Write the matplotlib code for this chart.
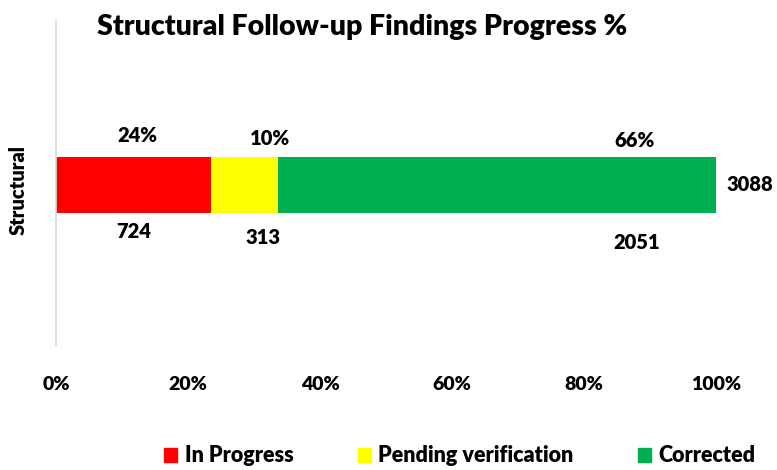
import matplotlib
matplotlib.use("Agg")
import matplotlib.pyplot as plt
from matplotlib.patches import Patch

plt.rcParams['font.family'] = ['Lato', 'DejaVu Sans']
W = 'heavy'
plt.rcParams['font.weight'] = W

category = "Structural"
series = ["In Progress", "Pending verification", "Corrected"]
counts = [724, 313, 2051]
pct_labels = [24, 10, 66]
total = 3088
colors = ["#FF0000", "#FFFF00", "#00B050"]
xticks = [0, 20, 40, 60, 80, 100]

shares = [c / total * 100 for c in counts]

fig = plt.figure(figsize=(7.77, 4.70), dpi=100)
ax = fig.add_axes([56/777, 1-345/470, 660/777, 325/470])

left = 0
for s, v, col in zip(series, shares, colors):
    ax.barh(-0.015, v, left=left, height=0.35, color=col, label=s)
    left += v

ax.set_xlim(0, 100)
ax.set_ylim(-1, 1)

# percent labels (above) and counts (below)
pct_x = [12.3, 32.4, 87.6]
pct_y = [0.29, 0.27, 0.26]
cnt_x = [11.7, 31.4, 88.0]
cnt_y = [-0.30, -0.34, -0.37]
for i, (p, c) in enumerate(zip(pct_labels, counts)):
    ax.text(pct_x[i], pct_y[i], f"{p}%", ha='center', va='center',
            fontsize=14.5, fontweight=W)
    ax.text(cnt_x[i], cnt_y[i], f"{c}", ha='center', va='center',
            fontsize=14.5, fontweight=W)
ax.text(105.2, -0.01, f"{total}", ha='center', va='center', fontsize=14.5,
        fontweight=W, clip_on=False)

ax.set_xticks(xticks)
ax.set_xticklabels([f"{t}%" for t in xticks], fontsize=14, fontweight=W)
ax.tick_params(axis='x', length=0, pad=22)
ax.set_yticks([])
for sp in ['top', 'right', 'bottom']:
    ax.spines[sp].set_visible(False)
ax.spines['left'].set_color('#D9D9D9')
ax.spines['left'].set_linewidth(1.2)

fig.text(18/777, 1-190/470, category, rotation=90, ha='center', va='center',
         fontsize=14.5, fontweight=W)

fig.text(362/777, 1-27/470, "Structural Follow-up Findings Progress %",
         ha='center', va='center', fontsize=20.5, fontweight=W)

handles = [Patch(color=c, label=s) for s, c in zip(series, colors)]
fig.legend(handles=handles, loc='center', bbox_to_anchor=(460/777, 1-456/470),
           ncol=3, frameon=False, prop={'size': 15.5, 'weight': W},
           handlelength=0.6, handleheight=0.6, handletextpad=0.35,
           columnspacing=3.0)

fig.savefig("out.png", dpi=100)
